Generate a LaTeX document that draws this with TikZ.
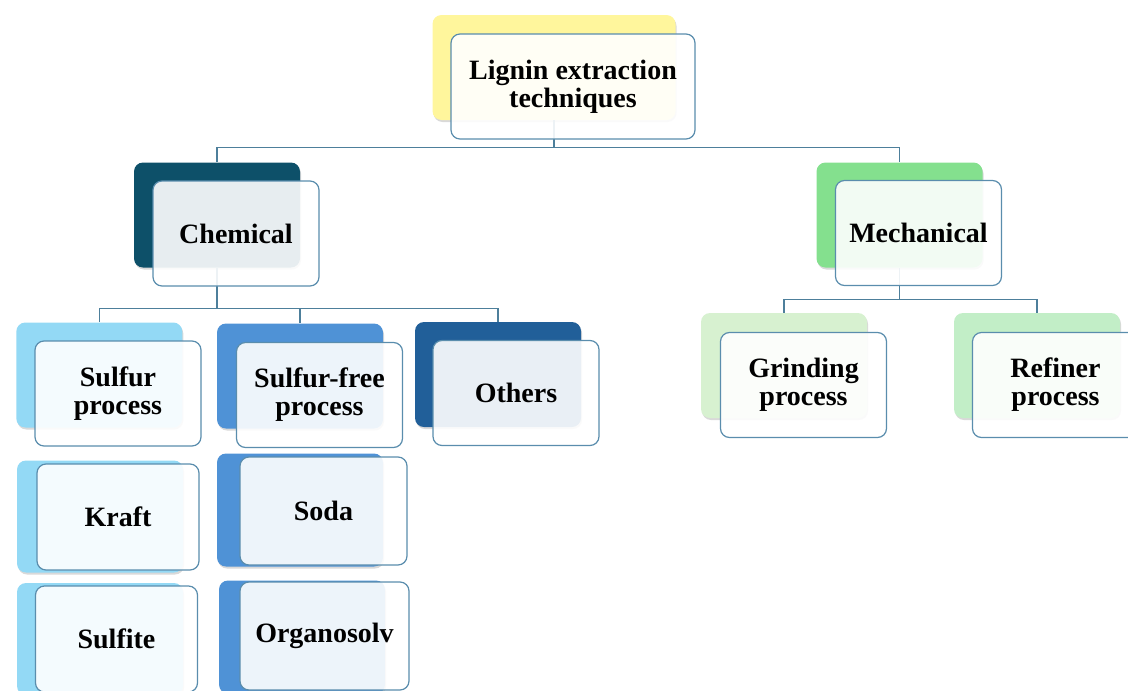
\documentclass[tikz,border=0pt]{standalone}
\usepackage{fontspec}
\setmainfont{Liberation Serif}
\usetikzlibrary{shadows}

\definecolor{rootC}{HTML}{FFF69C}
\definecolor{chemC}{HTML}{0D5069}
\definecolor{mechC}{HTML}{84E08E}
\definecolor{sulC}{HTML}{93D9F5}
\definecolor{freeC}{HTML}{4F92D6}
\definecolor{othC}{HTML}{215F99}
\definecolor{grindC}{HTML}{D7F1D0}
\definecolor{refC}{HTML}{C2EEC7}
\definecolor{lineC}{HTML}{4D7F9B}
\definecolor{edgeC}{HTML}{5A8DAD}

\begin{document}
\begin{tikzpicture}[x=1pt,y=-1pt,
    back/.style={rounded corners=9pt, minimum width=166pt, minimum height=105pt,
        drop shadow={opacity=0.3, shadow xshift=1pt, shadow yshift=-2pt}},
    front/.style={draw=edgeC, line width=1.2pt, fill=white, fill opacity=0.9,
        text opacity=1, rounded corners=9pt, minimum width=166pt, minimum height=105pt,
        align=center, inner sep=0pt, font=\fontsize{28}{28}\selectfont\bfseries},
    link/.style={draw=lineC, line width=1.3pt}]
        \useasboundingbox (0,0) rectangle (1128,691);

        % Back boxes
        \node[back, fill=rootC, minimum width=243pt] (rootB) at (554,67.5) {};
        \node[back, fill=chemC] (chemB) at (217,215) {};
        \node[back, fill=mechC] (mechB) at (899.5,215) {};
        \node[back, fill=sulC] (sulB) at (99.3,375) {};
        \node[back, fill=freeC] (freeB) at (300,376) {};
        \node[back, fill=othC] (othB) at (498,374.5) {};
        \node[back, fill=grindC] (grindB) at (784,365.5) {};
        \node[back, fill=refC] (refB) at (1037,365.5) {};

        % Lists under the chemical ones
        \node[back, fill=sulC, minimum height=112pt] (kraftB) at (100,516.5) {};
        \node[back, fill=freeC, minimum height=113pt] (sodaB) at (300,510) {};
        \node[back, fill=sulC, minimum height=112pt] (sulfiteB) at (100,639) {};
        \node[back, fill=freeC, minimum height=113pt] (organoB) at (302,637) {};

        % Connectors
        \draw[link] (rootB.south) -- ++(0,27) coordinate (rootBus);
        \foreach \c in {chemB,mechB}
        \draw[link] (rootBus) -| (\c.north);

        \draw[link] (chemB.south) -- ++(0,41) coordinate (chemBus);
        \foreach \c in {sulB,freeB,othB}
        \draw[link] (chemBus) -| (\c.north);

        \draw[link] (mechB.south) -- ++(0,32) coordinate (mechBus);
        \foreach \c in {grindB,refB}
        \draw[link] (mechBus) -| (\c.north);

        % Front boxes
        \node[front, minimum width=244pt] (root) at (573,86.5) {Lignin extraction\\techniques};
        \node[front] (chem) at (236,233.5) {Chemical};
        \node[front] (mech) at (918.5,233) {Mechanical};
        \node[front] (sul) at (118,393.5) {Sulfur\\process};
        \node[front] (free) at (319.5,395) {Sulfur-free\\process};
        \node[front] (oth) at (516,393) {Others};
        \node[front] (grind) at (803.5,385) {Grinding\\process};
        \node[front] (ref) at (1055.5,385) {Refiner\\process};

        \node[front, minimum width=162pt, minimum height=106pt] (kraft) at (118,517) {Kraft};
        \node[front, minimum width=167pt, minimum height=108pt] (soda) at (323.5,511) {Soda};
        \node[front, minimum width=162pt, minimum height=106pt] (sulfite) at (116.5,639) {Sulfite};
        \node[front, minimum width=169pt, minimum height=108pt] (organo) at (324.5,636) {Organosolv};

    \end{tikzpicture}
\end{document}
